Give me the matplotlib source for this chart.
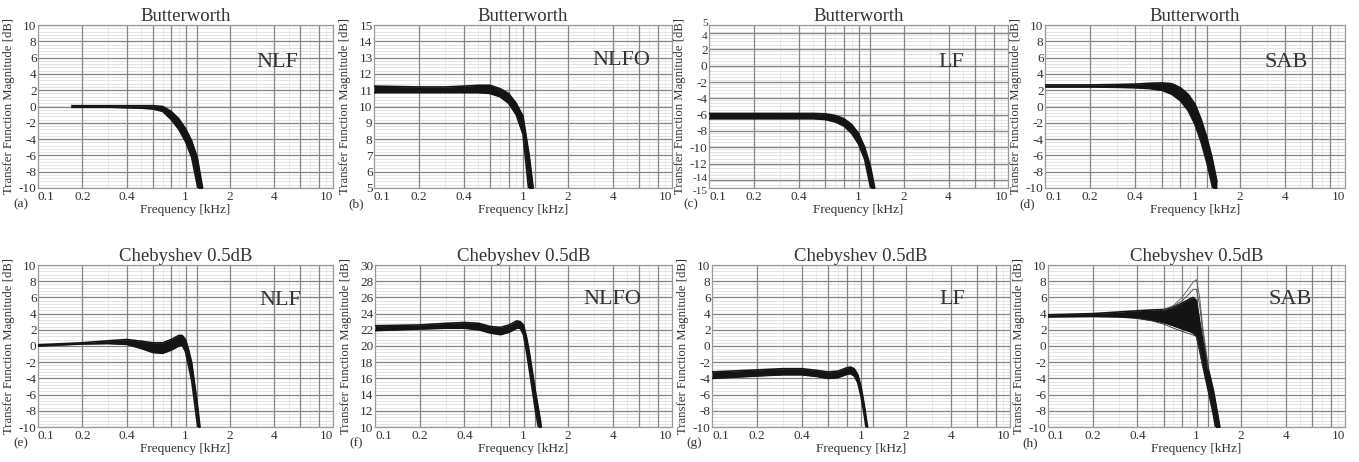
import numpy as np
import matplotlib
matplotlib.use('Agg')
import matplotlib.pyplot as plt
from matplotlib.transforms import ScaledTranslation

plt.rcParams['font.family'] = ['Liberation Serif', 'DejaVu Serif']

# ---- data (kHz / dB), upper and lower edge of each band ----
# (a) Butterworth NLF
f_a  = [0.17, 0.3, 0.5, 0.6, 0.7, 0.8, 0.9, 1.0, 1.1, 1.2, 1.3, 1.4]
hi_a = [0.1, 0.1, 0.1, 0.1, 0.0, -0.6, -1.5, -2.7, -4.2, -6.2, -9.8, -13]
lo_a = [-0.1, -0.1, -0.2, -0.3, -0.6, -1.6, -2.8, -4.3, -6.2, -9.6, -13, -16]
# (b) Butterworth NLFO
f_b  = [0.1, 0.2, 0.3, 0.4, 0.5, 0.6, 0.7, 0.8, 0.9, 1.0, 1.1, 1.2]
hi_b = [11.25, 11.2, 11.2, 11.25, 11.3, 11.3, 11.1, 10.8, 10.2, 9.4, 7.0, 4.2]
lo_b = [10.85, 10.85, 10.85, 10.85, 10.85, 10.8, 10.6, 10.2, 9.5, 8.3, 4.6, 2.0]
# (c) Butterworth LF
f_c  = [0.1, 0.3, 0.5, 0.6, 0.7, 0.8, 0.9, 1.0, 1.1, 1.2, 1.3]
hi_c = [-5.85, -5.85, -5.85, -5.9, -6.1, -6.5, -7.2, -8.3, -10.0, -12.3, -15.5]
lo_c = [-6.5, -6.5, -6.5, -6.6, -6.9, -7.4, -8.3, -9.6, -11.5, -14.8, -18]
# (d) Butterworth SAB
f_d  = [0.1, 0.2, 0.3, 0.4, 0.5, 0.6, 0.7, 0.8, 0.9, 1.0, 1.1, 1.2, 1.3, 1.4]
hi_d = [2.65, 2.65, 2.7, 2.75, 2.85, 2.9, 2.8, 2.3, 1.5, 0.3, -1.6, -3.8, -6.3, -9.2]
lo_d = [2.4, 2.4, 2.35, 2.3, 2.2, 2.0, 1.5, 0.7, -0.5, -2.2, -4.4, -6.9, -9.7, -12.5]
# (e) Chebyshev NLF
f_e  = [0.1, 0.2, 0.3, 0.4, 0.5, 0.6, 0.7, 0.8, 0.9, 0.95, 1.0, 1.05, 1.1, 1.2, 1.3]
hi_e = [0.15, 0.4, 0.65, 0.8, 0.6, 0.4, 0.4, 0.8, 1.3, 1.3, 0.8, -0.5, -2.0, -7.0, -12.5]
lo_e = [0.0, 0.25, 0.3, 0.2, -0.3, -0.8, -0.9, -0.5, 0.0, 0.1, -0.7, -2.5, -4.2, -9.5, -15]
# (f) Chebyshev NLFO
f_f  = [0.1, 0.2, 0.3, 0.4, 0.5, 0.6, 0.7, 0.8, 0.9, 0.95, 1.0, 1.05, 1.1, 1.2, 1.3, 1.4]
hi_f = [22.5, 22.6, 22.8, 22.9, 22.8, 22.4, 22.3, 22.6, 23.1, 23.0, 22.6, 21.0, 19.0, 14.5, 10.8, 6]
lo_f = [21.9, 22.1, 22.2, 22.2, 22.0, 21.6, 21.4, 21.7, 22.2, 22.2, 21.4, 19.2, 16.8, 12.2, 8.5, 4]
# (g) Chebyshev LF
f_g  = [0.1, 0.2, 0.3, 0.4, 0.5, 0.6, 0.7, 0.8, 0.85, 0.9, 0.95, 1.0, 1.05, 1.1, 1.2]
hi_g = [-3.2, -2.95, -2.8, -2.8, -3.0, -3.2, -3.1, -2.7, -2.6, -2.8, -3.5, -5.0, -7.2, -9.7, -14]
lo_g = [-4.0, -3.7, -3.55, -3.55, -3.75, -4.0, -3.9, -3.5, -3.4, -3.7, -4.5, -6.2, -8.5, -11.0, -15]
# (h) Chebyshev SAB (dense core + a few stray curves)
f_h  = [0.1, 0.2, 0.3, 0.4, 0.5, 0.6, 0.7, 0.8, 0.9, 0.95, 1.0, 1.05, 1.1, 1.2, 1.3, 1.4, 1.5]
hi_h = [3.85, 4.0, 4.2, 4.35, 4.45, 4.5, 4.8, 5.3, 5.8, 6.0, 5.6, 3.0, 0.8, -2.8, -5.5, -8.8, -12]
lo_h = [3.6, 3.65, 3.6, 3.45, 3.2, 2.9, 2.5, 2.1, 1.8, 1.6, 1.2, -0.5, -2.3, -5.5, -8.5, -12, -15]
f_h_out = [0.6, 0.7, 0.8, 0.9, 0.95, 1.0, 1.05, 1.1, 1.2]
h_out1 = [4.5, 5.0, 6.0, 7.3, 7.9, 8.2, 6.0, 2.5, -2.5]
h_out2 = [4.4, 4.9, 5.6, 6.5, 7.0, 7.0, 5.0, 1.8, -3.0]
f_h_low = [0.4, 0.5, 0.6, 0.7, 0.8, 0.9, 1.0, 1.05, 1.1]
h_low1 = [3.4, 3.1, 2.7, 2.2, 1.8, 1.5, 1.2, -0.5, -2.5]

titles = ['Butterworth'] * 4 + ['Chebyshev 0.5dB'] * 4
names = ['NLF', 'NLFO', 'LF', 'SAB'] * 2
letters = ['(a)', '(b)', '(c)', '(d)', '(e)', '(f)', '(g)', '(h)']
bands = [(f_a, hi_a, lo_a), (f_b, hi_b, lo_b), (f_c, hi_c, lo_c), (f_d, hi_d, lo_d),
         (f_e, hi_e, lo_e), (f_f, hi_f, lo_f), (f_g, hi_g, lo_g), (f_h, hi_h, lo_h)]
ylims = [(-10, 10), (5, 15), (-15, 5), (-10, 10), (-10, 10), (10, 30), (-10, 10), (-10, 10)]
yticks = [list(range(-10, 11, 2)), list(range(5, 16)), [-15] + list(range(-14, 5, 2)) + [5],
          list(range(-10, 11, 2)), list(range(-10, 11, 2)), list(range(10, 31, 2)),
          list(range(-10, 11, 2)), list(range(-10, 11, 2))]
yminor = [0.4, 0.2, 0.4, 0.4, 0.4, 0.4, 0.4, 0.4]

xt = [0.1, 0.2, 0.4, 1, 2, 4, 10]
xt_lab = ['0.1', '0.2', '0.4', '1', '2', '4', '10']
xgrid_major = [0.2, 0.4, 0.6, 0.8, 1.0, 1.2, 2, 4, 6, 8]
xgrid_minor = [0.3, 0.5, 0.7, 0.9, 3, 5, 7, 9]

W, H = 1359, 462
fig = plt.figure(figsize=(W / 100, H / 100), dpi=100)

# axes boxes in pixels (left, right, top, bottom)
boxes = [(38, 333, 25, 188), (374, 672, 25, 188), (709, 1008, 25, 188), (1045, 1345, 25, 188),
         (38, 333, 265, 427), (375, 672, 265, 427), (712, 1010, 265, 427), (1048, 1345, 265, 427)]
name_pos = [(0.81, 0.77), (0.83, 0.785), (0.81, 0.77), (0.805, 0.77),
            (0.82, 0.78), (0.80, 0.79), (0.805, 0.79), (0.815, 0.79)]

tc = '#333333'
for i in range(8):
    l, r, t, b = boxes[i]
    ax = fig.add_axes([l / W, 1 - b / H, (r - l) / W, (b - t) / H])
    ax.set_xscale('log')
    ax.set_xlim(0.1, 10)
    ax.set_ylim(*ylims[i])
    y0, y1 = ylims[i]

    # grid
    for yv in np.arange(y0, y1 + 1e-6, yminor[i]):
        ax.axhline(yv, color='#d9d9d9', lw=0.5, zorder=0)
    for xv in xgrid_minor:
        ax.axvline(xv, color='#e2e2e2', lw=0.5, zorder=0)
    for yv in yticks[i]:
        ax.axhline(yv, color='#858585', lw=0.9, zorder=1)
    for xv in xgrid_major:
        ax.axvline(xv, color='#858585', lw=0.9, zorder=1)

    f, hi, lo = bands[i]
    ax.fill_between(f, lo, hi, color='#141414', lw=0, zorder=3)
    ax.plot(f, hi, color='#141414', lw=1.2, zorder=3)
    ax.plot(f, lo, color='#141414', lw=1.2, zorder=3)
    if i == 7:
        ax.plot(f_h_out, h_out1, color='#555555', lw=0.6, zorder=3)
        ax.plot(f_h_out, h_out2, color='#444444', lw=0.6, zorder=3)
        ax.plot(f_h_low, h_low1, color='#333333', lw=0.6, zorder=3)

    ax.set_xticks(xt)
    ax.set_xticklabels(xt_lab)
    ax.xaxis.set_minor_locator(matplotlib.ticker.NullLocator())
    xl = ax.get_xticklabels()
    xl[0].set_ha('left')
    xl[-1].set_ha('right')
    ax.set_yticks(yticks[i])
    ax.set_yticklabels([str(v) for v in yticks[i]])
    ax.tick_params(axis='x', length=0, pad=2.5, labelsize=9.5, colors=tc)
    ax.tick_params(axis='y', length=0, pad=1, labelsize=9.5, colors=tc)
    if i == 2:
        # the 5/4 and -15/-14 labels sit very close, squeeze them apart a bit
        yl = ax.get_yticklabels()
        for k, dy in [(0, -2), (1, 2), (len(yl) - 2, -2), (len(yl) - 1, 2)]:
            yl[k].set_fontsize(8)
            yl[k].set_transform(yl[k].get_transform() + ScaledTranslation(0, dy / 100, fig.dpi_scale_trans))
    for s in ax.spines.values():
        s.set_color('#9a9a9a')
        s.set_linewidth(0.9)

    ax.set_title(titles[i], fontsize=13.5, color=tc, pad=2)
    ax.set_xlabel('Frequency [kHz]', fontsize=9.5, color=tc, va='top')
    ax.xaxis.set_label_coords(0.5, -0.1)
    ax.set_ylabel('Transfer Function Magnitude [dB]', fontsize=9.2, color=tc, va='center')
    ax.yaxis.set_label_coords(-0.097, 0.5)
    ax.text(name_pos[i][0], name_pos[i][1], names[i], transform=ax.transAxes, fontsize=16,
            ha='center', va='center', color=tc, zorder=5)
    ax.text(-0.085, -0.1, letters[i], transform=ax.transAxes, fontsize=9.5,
            ha='left', va='center', color=tc)

fig.savefig('out.png', dpi=100, facecolor='white')
